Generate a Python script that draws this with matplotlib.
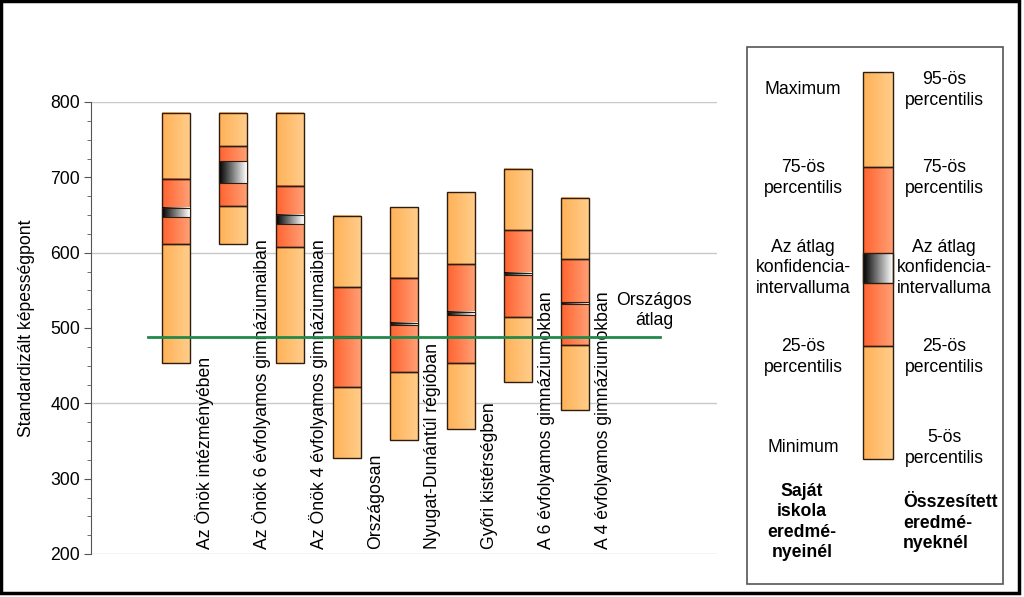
import numpy as np
import matplotlib
matplotlib.use("Agg")
import matplotlib.pyplot as plt
from matplotlib.colors import LinearSegmentedColormap
from matplotlib.patches import Rectangle

plt.rcParams['font.family'] = ['Liberation Sans', 'DejaVu Sans']

categories = ["Az Önök intézményében",
              "Az Önök 6 évfolyamos gimnáziumaiban",
              "Az Önök 4 évfolyamos gimnáziumaiban",
              "Országosan",
              "Nyugat-Dunántúl régióban",
              "Győri kistérségben",
              "A 6 évfolyamos gimnáziumokban",
              "A 4 évfolyamos gimnáziumokban"]
low = [453, 611, 454, 327, 351, 366, 428, 391]
p25 = [611, 662, 607, 422, 441, 454, 515, 477]
ci_low = [647, 693, 638, 487, 504, 517, 570, 532]
ci_high = [659, 722, 650, 489, 507, 521, 573, 534]
p75 = [698, 741, 688, 554, 567, 585, 630, 591]
high = [786, 786, 786, 649, 661, 680, 711, 672]
national_avg = 488

FS = 12.7

light_cm = LinearSegmentedColormap.from_list("light", ["#FFB157", "#FFCD8A"])
dark_cm = LinearSegmentedColormap.from_list("dark", ["#FF6330", "#FF9F74"])
ci_cm = LinearSegmentedColormap.from_list("ci", ["#000000", "#FFFFFF"])
edge = "#2e1c0c"
grad = np.linspace(0, 1, 64).reshape(1, -1)


def seg(ax, xc, w, y0, y1, cmap, z=2, lw=1.0):
    ax.imshow(grad, cmap=cmap, extent=(xc - w / 2, xc + w / 2, y0, y1),
              aspect='auto', origin='lower', zorder=z, interpolation='bilinear')
    ax.add_patch(Rectangle((xc - w / 2, y0), w, y1 - y0, fill=False,
                           edgecolor=edge, lw=lw, zorder=z + 0.1))


fig = plt.figure(figsize=(10.24, 5.97), dpi=100)
ax = fig.add_axes([91 / 1024, 1 - 554 / 597, (717 - 91) / 1024, (554 - 102) / 597])

w = 0.49
for i in range(len(categories)):
    seg(ax, i, w, low[i], p25[i], light_cm)
    seg(ax, i, w, p75[i], high[i], light_cm)
    seg(ax, i, w, p25[i], p75[i], dark_cm)
    seg(ax, i, w, ci_low[i], ci_high[i], ci_cm, z=3, lw=0.8)
    ax.text(i + 0.5, 207, categories[i], rotation=90, ha='center', va='bottom',
            fontsize=FS, color='black', zorder=5)

ax.plot([-0.5, 8.5], [national_avg, national_avg], color='#23884a', lw=2, zorder=6)
ax.text(8.4, 523, "Országos\nátlag", ha='center', va='center', fontsize=FS,
        linespacing=1.25)

ax.set_xlim(-1.5, 9.5)
ax.set_ylim(200, 800)
ax.set_yticks(range(200, 801, 100))
ax.set_yticks(range(200, 801, 25), minor=True)
for gy in [200, 400, 600, 800]:
    ax.axhline(gy, color='#c8c8c8', lw=1, zorder=0)
ax.set_xticks([])
for s in ['top', 'right', 'bottom']:
    ax.spines[s].set_visible(False)
ax.spines['left'].set_color('#555555')
ax.tick_params(axis='y', which='major', length=5, labelsize=FS, color='#555555', pad=3)
ax.tick_params(axis='y', which='minor', length=3, color='#555555')
ax.set_ylabel("Standardizált képességpont", fontsize=FS)
ax.yaxis.set_label_coords(-0.09, 0.5)

# overlay axes for legend and frame (pixel coordinates)
ov = fig.add_axes([0, 0, 1, 1], zorder=10)
ov.set_xlim(0, 1024)
ov.set_ylim(597, 0)
ov.axis('off')
ov.patch.set_alpha(0)
ov.add_patch(Rectangle((1, 1), 1018, 592, fill=False, edgecolor='black', lw=2.5))
ov.add_patch(Rectangle((747, 47), 256, 537, fill=False, edgecolor='#555555', lw=1.2))

lx, lw_ = 878, 30


def lseg(y0, y1, cmap):
    ov.imshow(grad, cmap=cmap, extent=(lx - lw_ / 2, lx + lw_ / 2, y0, y1),
              aspect='auto', origin='lower', interpolation='bilinear', zorder=2)
    ov.add_patch(Rectangle((lx - lw_ / 2, y1), lw_, y0 - y1, fill=False,
                           edgecolor=edge, lw=1.0, zorder=3))


lseg(459, 346, light_cm)
lseg(167, 72, light_cm)
lseg(346, 167, dark_cm)
lseg(283, 253, ci_cm)
ov.set_xlim(0, 1024)
ov.set_ylim(597, 0)

left_txt = ["Maximum", "75-ös\npercentilis", "Az átlag\nkonfidencia-\nintervalluma",
            "25-ös\npercentilis", "Minimum"]
right_txt = ["95-ös\npercentilis", "75-ös\npercentilis", "Az átlag\nkonfidencia-\nintervalluma",
             "25-ös\npercentilis", "5-ös\npercentilis"]
ys = [90, 178, 268, 357, 448]
for t, y in zip(left_txt, ys):
    ov.text(803, y, t, ha='center', va='center', fontsize=FS, linespacing=1.25)
for t, y in zip(right_txt, ys):
    ov.text(944, y, t, ha='center', va='center', fontsize=FS, linespacing=1.25)
ov.text(802, 522, "Saját\niskola\neredmé-\nnyeinél", ha='center', va='center',
        fontsize=FS, fontweight='bold', linespacing=1.25)
ov.text(903, 523, "Összesített\neredmé-\nnyeknél", ha='left', va='center',
        fontsize=FS, fontweight='bold', linespacing=1.25)

fig.savefig("out.png", dpi=100)
